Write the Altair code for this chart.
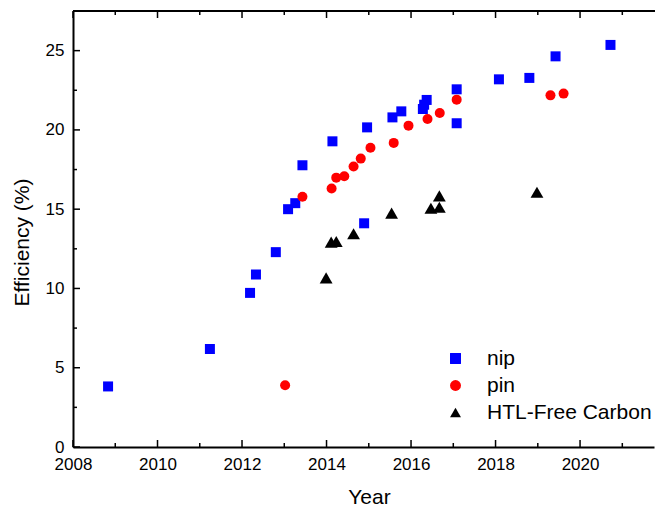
import altair as alt
import pandas as pd

# Power-conversion efficiency records by device architecture
nip_year = [2008.83, 2011.24, 2012.19, 2012.33, 2012.80, 2013.09, 2013.26, 2013.43,
            2014.14, 2014.89, 2014.96, 2015.56, 2015.77, 2016.28, 2016.31, 2016.37,
            2017.08, 2017.08, 2018.08, 2018.80, 2019.42, 2020.72]
nip_eff = [3.82, 6.18, 9.72, 10.88, 12.29, 15.00, 15.38, 17.77,
           19.28, 14.11, 20.16, 20.79, 21.17, 21.32, 21.59, 21.89,
           22.56, 20.42, 23.19, 23.28, 24.64, 25.36]

pin_year = [2013.02, 2013.43, 2014.12, 2014.23, 2014.42, 2014.64, 2014.81, 2015.04,
            2015.59, 2015.94, 2016.39, 2016.68, 2017.08, 2019.30, 2019.61]
pin_eff = [3.89, 15.78, 16.30, 16.99, 17.08, 17.69, 18.19, 18.88,
           19.18, 20.27, 20.69, 21.07, 21.91, 22.18, 22.29]

htl_year = [2013.99, 2014.11, 2014.23, 2014.64, 2015.54, 2016.47, 2016.67, 2016.67, 2018.98]
htl_eff = [10.67, 12.92, 12.96, 13.45, 14.75, 15.06, 15.12, 15.84, 16.07]

series = ["nip", "pin", "HTL-Free Carbon"]
shapes = ["square", "circle", "triangle-up"]
colors = ["#0000ff", "#ff0000", "#000000"]
marker_area = {"nip": 100, "pin": 100, "HTL-Free Carbon": 165}

x_major = [2008, 2010, 2012, 2014, 2016, 2018, 2020]
x_minor = [2009, 2011, 2013, 2015, 2017, 2019, 2021]
y_major = [0, 5, 10, 15, 20, 25]
y_minor = [2.5, 7.5, 12.5, 17.5, 22.5, 27.5]

W, H = 581, 436
FONT = "Liberation Sans"

df = pd.concat([
    pd.DataFrame({"Year": nip_year, "Efficiency": nip_eff, "Type": series[0]}),
    pd.DataFrame({"Year": pin_year, "Efficiency": pin_eff, "Type": series[1]}),
    pd.DataFrame({"Year": htl_year, "Efficiency": htl_eff, "Type": series[2]}),
], ignore_index=True)
df["order"] = df["Type"].map({s: i for i, s in enumerate(series)})
df["area"] = df["Type"].map(marker_area)

xscale = alt.Scale(domain=[2008, 2021.75], nice=False, zero=False)
yscale = alt.Scale(domain=[0, 27.5], nice=False, zero=False)

legend = alt.Legend(title=None, orient="none", legendX=372, legendY=337,
                    labelFontSize=21, labelFont=FONT, labelColor="#000",
                    labelOffset=21, labelLimit=400, rowPadding=5, padding=0,
                    symbolSize=120, symbolStrokeWidth=0, symbolOpacity=1)

points = alt.Chart(df).mark_point(filled=True, opacity=1, strokeWidth=0).encode(
    x=alt.X("Year:Q", scale=xscale,
            axis=alt.Axis(values=x_major, format="d", tickSize=0, labelPadding=9,
                          labelFlush=False, labelOverlap=False,
                          labelFontSize=17, labelFont=FONT, labelColor="#000",
                          domainColor="#000", domainWidth=2,
                          title="Year", titleFontSize=21, titleFont=FONT,
                          titleFontWeight="normal", titleColor="#000",
                          titleX=296, titleY=56, titleAlign="center",
                          titleBaseline="alphabetic", grid=False)),
    y=alt.Y("Efficiency:Q", scale=yscale,
            axis=alt.Axis(values=y_major, tickSize=0, labelPadding=9,
                          labelFlush=False, labelOverlap=False,
                          labelFontSize=17, labelFont=FONT, labelColor="#000",
                          domainColor="#000", domainWidth=2,
                          title="Efficiency (%)", titleFontSize=21, titleFont=FONT,
                          titleFontWeight="normal", titleColor="#000",
                          titleX=-51, titleY=231, titleAlign="center",
                          titleBaseline="middle", grid=False)),
    shape=alt.Shape("Type:N", scale=alt.Scale(domain=series, range=shapes), legend=legend),
    color=alt.Color("Type:N", scale=alt.Scale(domain=series, range=colors), legend=legend),
    size=alt.Size("area:Q", scale=None, legend=None),
    order=alt.Order("order:Q"),
)

# Inward tick marks on bottom, top and left edges
xmaj = pd.DataFrame({"v": x_major})
xmin = pd.DataFrame({"v": x_minor})
ymaj = pd.DataFrame({"v": y_major})
ymin = pd.DataFrame({"v": y_minor})


def xticks(data, length):
    bottom = alt.Chart(data).mark_rule(color="#000", strokeWidth=1.5).encode(
        x=alt.X("v:Q", scale=xscale), y=alt.value(H), y2=alt.value(H - length))
    top = alt.Chart(data).mark_rule(color="#000", strokeWidth=1.5).encode(
        x=alt.X("v:Q", scale=xscale), y=alt.value(0), y2=alt.value(length))
    return bottom + top


def yticks(data, length):
    return alt.Chart(data).mark_rule(color="#000", strokeWidth=1.5).encode(
        y=alt.Y("v:Q", scale=yscale), x=alt.value(0), x2=alt.value(length))


top_line = alt.Chart(pd.DataFrame({"v": [0]})).mark_rule(color="#000", strokeWidth=2).encode(
    x=alt.value(0), x2=alt.value(W + 5), y=alt.value(0))

chart = alt.layer(
    top_line,
    xticks(xmaj, 7), xticks(xmin, 4),
    yticks(ymaj, 7), yticks(ymin, 4),
    points,
).properties(
    width=W, height=H,
    autosize=alt.AutoSizeParams(type="none"),
    padding={"left": 73, "top": 11, "right": 1, "bottom": 59},
).configure(background="white").configure_view(stroke="transparent", strokeWidth=0)

chart.save("out.html", embed_options={"renderer": "svg", "actions": False})
